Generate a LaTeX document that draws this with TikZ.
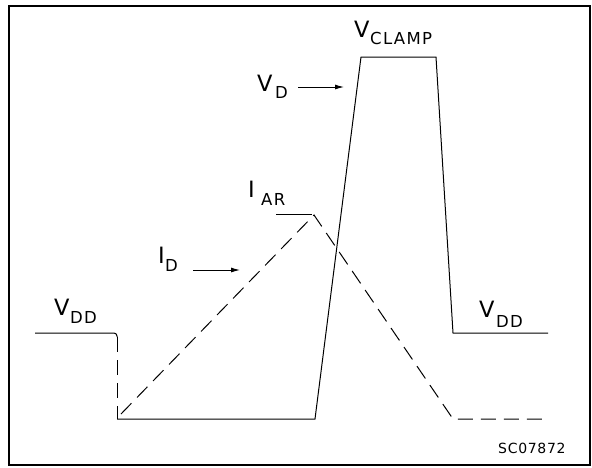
\documentclass[tikz,border=0pt]{standalone}
\usepackage{fontspec}
\setmainfont{DejaVu Sans}
\usetikzlibrary{arrows.meta}
\begin{document}
\begin{tikzpicture}[x=1pt,y=-1pt,
  big/.style={inner sep=0pt,anchor=base west,font=\fontsize{22.5}{22.5}\selectfont},
  subs/.style={inner sep=0pt,anchor=base west,font=\fontsize{16.5}{16.5}\selectfont\addfontfeature{LetterSpace=8}},
  tag/.style={inner sep=0pt,anchor=base west,font=\fontsize{14}{14}\selectfont\addfontfeature{LetterSpace=5}},
  wave/.style={line width=1pt,black},
  dwave/.style={line width=1pt,black,dash pattern=on 15pt off 8pt},
  pointer/.style={line width=1pt,-{Latex[length=9pt,width=5pt]}}]
\useasboundingbox (0,0) rectangle (592,467);
\draw[line width=2pt] (9,6) rectangle (589.5,465);
% coordinates
\coordinate (l0) at (35,333);
\coordinate (l1) at (117,333);
\coordinate (l2) at (117,337);
\coordinate (b0) at (117,419);
\coordinate (b1) at (315,419);
\coordinate (t0) at (361,57);
\coordinate (t1) at (436,57);
\coordinate (r0) at (453,333);
\coordinate (r1) at (548,333);
\coordinate (i0) at (121,414);
\coordinate (ip) at (314,215);
\coordinate (i1) at (453,419);
\coordinate (i2) at (548,419);
\coordinate (ar0) at (276,214);
\coordinate (ar1) at (312,214);
% voltage trace
\draw[wave,rounded corners=3pt] (l0) -- (l1) -- (l2);
\draw[dwave] (l2) -- (b0);
\draw[wave] (b0) -- (b1) -- (t0) -- (t1) -- (r0) -- (r1);
% current trace
\draw[dwave] (i0) -- (ip) -- (i1) -- (i2);
\draw[wave] (ar0) -- (ar1);
% labels
\node[big] (vdl) at (54,315) {V};
\node[subs] (vdls) at (70,323) {DD};
\node[big] (vdr) at (479,317) {V};
\node[subs] (vdrs) at (496,327) {DD};
\node[big] (vd) at (257,91) {V};
\node[subs] (vds) at (275,98) {D};
\node[big] (vc) at (354,37) {V};
\node[subs] (vcs) at (370,44) {CLAMP};
\node[big] (iar) at (248,197) {I};
\node[subs] (iars) at (261,205) {AR};
\node[big] (id) at (158,263) {I};
\node[subs] (ids) at (165,271) {D};
\node[tag] (sc) at (498,453) {SC07872};
% arrows
\coordinate (vda0) at (298,87);
\coordinate (vda1) at (344,87);
\coordinate (ida0) at (193,270);
\coordinate (ida1) at (240,270);
\draw[pointer] (vda0) -- (vda1);
\draw[pointer] (ida0) -- (ida1);
\end{tikzpicture}
\end{document}
